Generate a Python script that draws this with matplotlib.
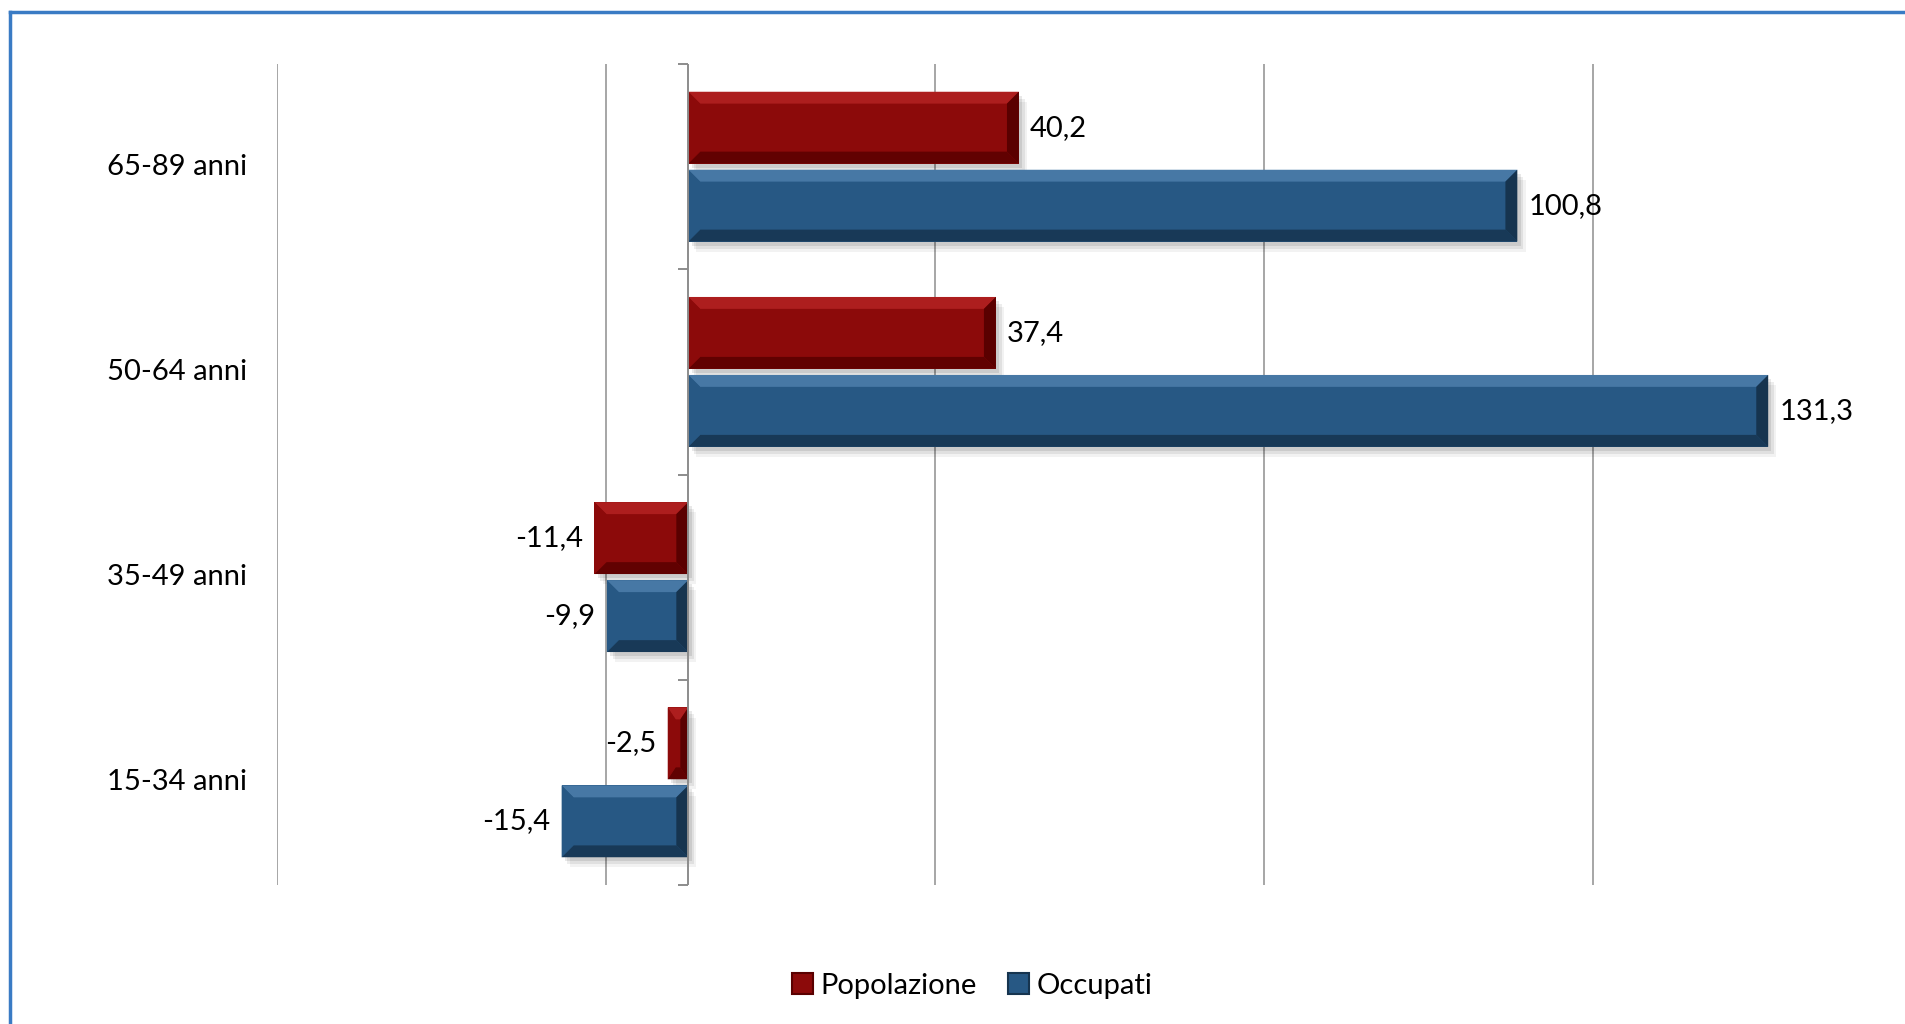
import matplotlib.pyplot as plt
from matplotlib.patches import Polygon, Rectangle, Patch
from matplotlib.lines import Line2D
import matplotlib.transforms as mtransforms

plt.rcParams['font.family'] = ['Lato', 'DejaVu Sans']

# data
categories = ['15-34 anni', '35-49 anni', '50-64 anni', '65-89 anni']
popolazione = [-2.5, -11.4, 37.4, 40.2]
occupati = [-15.4, -9.9, 131.3, 100.8]
series_names = ['Popolazione', 'Occupati']

red = '#8c0a0a'
red_light = '#b32222'
red_dark = '#5a0000'
blue = '#275884'
blue_light = '#4d7eab'
blue_dark = '#16344f'

FS = 21

fig = plt.figure(figsize=(19.06, 10.24), dpi=100)
ax = fig.add_axes([277 / 1906, 1 - 885 / 1024, (1922 - 277) / 1906, (885 - 64) / 1024])
ax.set_xlim(-50, 150)
ax.set_ylim(-0.5, 3.5)

ypos = list(range(len(categories)))
h = 0.35
off = 0.19


def bevel(bar, face, light, dark):
    x0, y0 = bar.get_x(), bar.get_y()
    w, hh = bar.get_width(), bar.get_height()
    x1 = x0 + w
    if x1 < x0:
        x0, x1 = x1, x0
    y1 = y0 + hh
    dx = min(1.45, (x1 - x0) / 2.6)
    dy = 0.058
    # soft shadow
    for k, a in [(10, 0.05), (7, 0.07), (4, 0.09)]:
        ax.add_patch(Rectangle((x0 + 0.1 * k, y0 - 0.0049 * k), x1 - x0, hh,
                               facecolor='#000000', alpha=a, lw=0, zorder=1))
    bar.set_zorder(2)
    pts = {
        'top': ([(x0, y1), (x1, y1), (x1 - dx, y1 - dy), (x0 + dx, y1 - dy)], light),
        'bottom': ([(x0, y0), (x1, y0), (x1 - dx, y0 + dy), (x0 + dx, y0 + dy)], dark),
        'left': ([(x0, y0), (x0, y1), (x0 + dx, y1 - dy), (x0 + dx, y0 + dy)], face),
        'right': ([(x1, y0), (x1, y1), (x1 - dx, y1 - dy), (x1 - dx, y0 + dy)], dark),
    }
    for name, (p, c) in pts.items():
        ax.add_patch(Polygon(p, closed=True, facecolor=c, edgecolor='none', zorder=3,
                             alpha=0.85 if name != 'right' else 1.0))


bars_p = ax.barh([y + off for y in ypos], popolazione, height=h, color=red, lw=0)
bars_o = ax.barh([y - off for y in ypos], occupati, height=h, color=blue, lw=0)

for b in bars_p:
    bevel(b, red, red_light, red_dark)
for b in bars_o:
    bevel(b, blue, blue_light, blue_dark)

# data labels
for bars, vals in [(bars_p, popolazione), (bars_o, occupati)]:
    for b, v in zip(bars, vals):
        yc = b.get_y() + b.get_height() / 2
        txt = ('%.1f' % v).replace('.', ',')
        if v >= 0:
            ax.annotate(txt, (v, yc), xytext=(8, 0), textcoords='offset points',
                        ha='left', va='center', fontsize=FS, zorder=5)
        else:
            ax.annotate(txt, (v, yc), xytext=(-8, 0), textcoords='offset points',
                        ha='right', va='center', fontsize=FS, zorder=5)

# gridlines and axis
for gx in [-50, -10, 30, 70, 110, 150]:
    ax.axvline(gx, color='#a6a6a6', lw=1.4, zorder=0)
ax.axvline(0, color='#8c8c8c', lw=1.4, zorder=4)

for s in ax.spines.values():
    s.set_visible(False)
ax.set_xticks([])
ax.set_yticks([-0.5, 0.5, 1.5, 2.5, 3.5])
ax.set_yticklabels([])
ax.spines['left'].set_position(('data', 0))
ax.tick_params(axis='y', length=7, width=1.4, color='#8c8c8c', direction='out')

trans = mtransforms.blended_transform_factory(ax.transAxes, ax.transData)
for y, c in zip(ypos, categories):
    ax.text(-30 / 1645, y, c, transform=trans, ha='right', va='center', fontsize=FS)

# legend
handles = [Patch(facecolor=red, edgecolor=red_dark, lw=1.5),
           Patch(facecolor=blue, edgecolor=blue_dark, lw=1.5)]
fig.legend(handles, series_names, loc='center', bbox_to_anchor=(0.51, 1 - 986 / 1024),
           ncol=2, frameon=False, fontsize=FS, handlelength=0.72, handleheight=0.72,
           handletextpad=0.25, columnspacing=1.1)

# chart border (cropped on right and bottom)
fig.add_artist(Line2D([10 / 1906, 10 / 1906], [-0.05, 1 - 12 / 1024],
                      transform=fig.transFigure, color='#3a7bc4', lw=2.5))
fig.add_artist(Line2D([10 / 1906, 1.05], [1 - 12 / 1024, 1 - 12 / 1024],
                      transform=fig.transFigure, color='#3a7bc4', lw=2.5))

fig.savefig('out.png', dpi=100)
